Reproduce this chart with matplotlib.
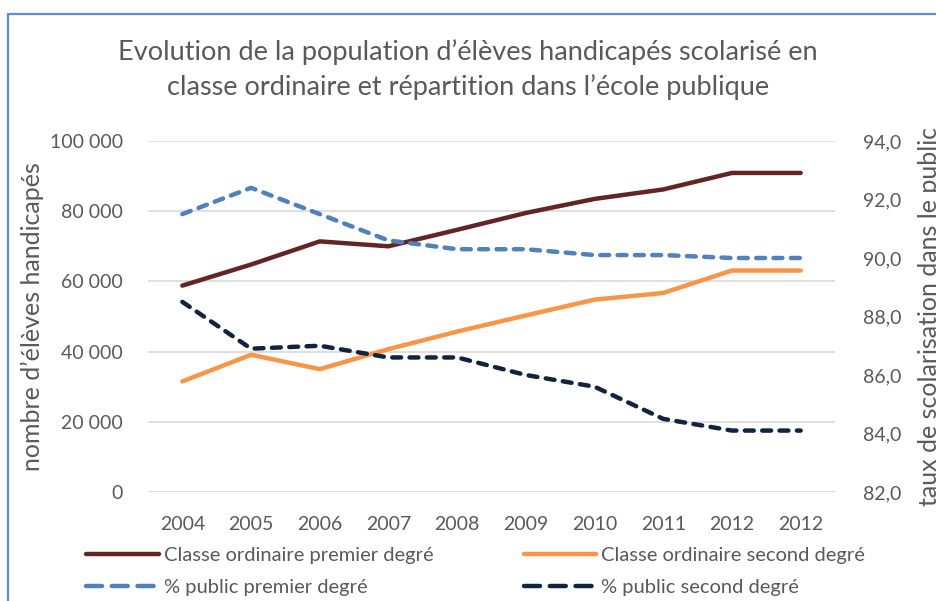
import matplotlib
matplotlib.use("Agg")
import matplotlib.pyplot as plt
from matplotlib.lines import Line2D
from matplotlib.patches import Rectangle
from matplotlib.ticker import FuncFormatter

plt.rcParams['font.family'] = ['Lato', 'DejaVu Sans']

# data
years = ['2004', '2005', '2006', '2007', '2008', '2009', '2010', '2011', '2012', '2012']
ord_premier = [58800, 64800, 71400, 70000, 74700, 79500, 83500, 86200, 90900, 90900]
ord_second = [31500, 39100, 35000, 40700, 45700, 50300, 54800, 56700, 63100, 63100]
pub_premier = [91.5, 92.4, 91.5, 90.6, 90.3, 90.3, 90.1, 90.1, 90.0, 90.0]
pub_second = [88.5, 86.9, 87.0, 86.6, 86.6, 86.0, 85.6, 84.5, 84.1, 84.1]

txt = '#595959'
brown = '#632523'
orange = '#f79646'
blue = '#4f81bd'
navy = '#10243f'

fig = plt.figure(figsize=(9.36, 6.01), dpi=100)
ax = fig.add_axes([148/936, 1 - 492/601, 687/936, 351/601])
ax2 = ax.twinx()

x = list(range(len(years)))
l1, = ax.plot(x, ord_premier, color=brown, lw=3.2, solid_capstyle='round',
              label='Classe ordinaire premier degré', zorder=3)
l2, = ax.plot(x, ord_second, color=orange, lw=3.2, solid_capstyle='round',
              label='Classe ordinaire second degré', zorder=3)
ax2.plot(x, pub_premier, color=blue, lw=3.2, ls=(0, (2.0, 1.9)),
         dash_capstyle='round')
ax2.plot(x, pub_second, color=navy, lw=3.2, ls=(0, (2.0, 1.9)),
         dash_capstyle='round')

# legend keys for the dashed series: three whole dashes, as in the reference
l3 = Line2D([], [], color=blue, lw=3.2, ls=(0, (3.6, 2.2)),
            dash_capstyle='round', label='% public premier degré')
l4 = Line2D([], [], color=navy, lw=3.2, ls=(0, (3.6, 2.2)),
            dash_capstyle='round', label='% public second degré')

ax.set_xlim(-0.5, len(years) - 0.5)
ax.set_ylim(0, 100000)
ax.set_yticks(range(0, 100001, 20000))
ax.yaxis.set_major_formatter(FuncFormatter(lambda v, p: f'{int(v):,}'.replace(',', ' ')))
ax.set_xticks(x)
ax.set_xticklabels(years)
ax2.set_ylim(82, 94)
ax2.set_yticks([82, 84, 86, 88, 90, 92, 94])
ax2.yaxis.set_major_formatter(FuncFormatter(lambda v, p: f'{v:.1f}'.replace('.', ',')))

ax.grid(axis='y', color='#d9d9d9', lw=1.2)
ax.set_axisbelow(True)
for a in (ax, ax2):
    for s in a.spines.values():
        s.set_visible(False)
    a.tick_params(length=0, colors=txt, labelsize=14)
ax.tick_params(axis='y', pad=18)
ax.tick_params(axis='x', pad=17)
ax2.tick_params(axis='y', pad=20)

ax.set_ylabel("nombre d\u2019élèves handicapés", color=txt, fontsize=18, labelpad=4)
# the reference also shows this label cut by the right edge of the chart
ax2.set_ylabel('taux de scolarisation dans le public', color=txt, fontsize=18, labelpad=12)

fig.text(0.5, 1 - 70/601, 'Evolution de la population d\u2019élèves handicapés scolarisé en\n'
         'classe ordinaire et répartition dans l\u2019école publique',
         ha='center', va='center', color=txt, fontsize=19.5, linespacing=1.45)

fig.legend(handles=[l1, l3, l2, l4], ncol=2, loc='upper left',
           bbox_to_anchor=(76/936, 1 - 537/601), frameon=False, fontsize=14.5,
           labelcolor=txt, handlelength=3.6, handletextpad=0.25,
           columnspacing=4.5, labelspacing=0.72, borderpad=0)

fig.patches.append(Rectangle((8/936, -0.05), 1.1, 1 - 14/601 + 0.05,
                             transform=fig.transFigure, fill=False,
                             edgecolor='#5b8fd6', lw=1.6))

fig.savefig('out.png', dpi=100)
